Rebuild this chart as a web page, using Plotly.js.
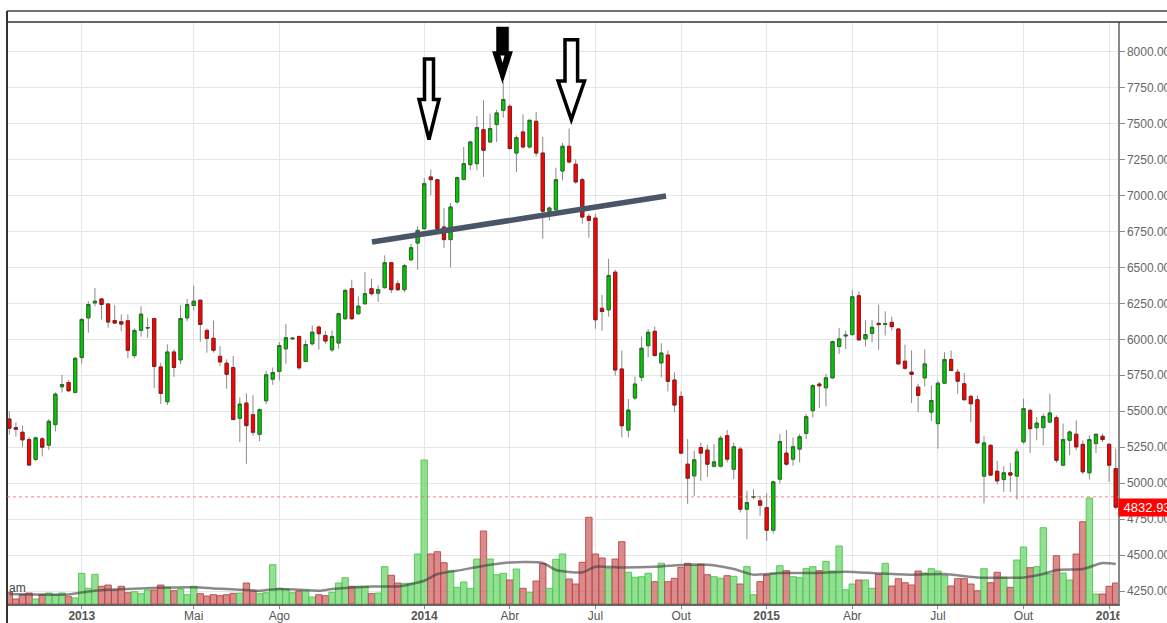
<!DOCTYPE html>
<html>
<head>
<meta charset="utf-8">
<script src="https://cdn.plot.ly/plotly-3.0.1.min.js"></script>
<style>html,body{margin:0;padding:0;background:#fff;}#chart{width:1167px;height:623px;}</style>
</head>
<body>
<div id="chart"></div>
<script>
// ---- data (weekly candles) ----
const firstWeek = '2012-10-15';
const open = [5446,5386,5354,5303,5165,5308,5264,5407,5670,5700,
5631,5873,6149,6253,6281,6246,6131,6122,6129,5887,
6062,6078,6145,5808,5566,5912,5857,6149,6235,6272,
6062,6007,5882,5834,5804,5451,5557,5476,5340,5573,
5723,5777,5934,6003,6020,5846,5969,6085,6027,5927,
5974,6143,6352,6178,6247,6352,6321,6359,6533,6386,
6345,6553,6669,6769,7129,7110,6781,6693,6955,7112,
7214,7221,7458,7372,7493,7592,7620,7295,7442,7337,
7516,7295,6890,6901,7170,7342,7217,7110,6855,6843,
6216,6205,6467,5794,5369,5592,5736,5956,6056,5836,
5891,5717,5603,5132,5051,5248,5230,5118,5118,5330,
5097,5237,4819,4903,4877,4830,4673,5028,5209,5167,
5237,5346,5504,5689,5663,5732,5950,6023,6033,6303,
6003,6042,6111,6104,6118,6072,5848,5772,5668,5732,
5494,5414,5695,5860,5772,5691,5603,5580,5049,5263,
5083,5025,5072,5049,5287,5506,5386,5386,5425,5455,
5125,5298,5340,5270,5072,5275,5326,5270,5102];
const high = [5499,5423,5400,5320,5324,5320,5446,5631,5753,5716,
5877,6149,6265,6357,6288,6253,6237,6173,6173,6076,
6230,6149,6149,5838,5965,5930,6237,6281,6373,6276,
6076,6131,5953,5861,5884,5596,5624,5612,5520,5781,
5804,5981,6108,6015,6025,5992,6097,6097,6057,6062,
6185,6352,6414,6298,6468,6421,6375,6584,6537,6410,
6526,6665,6785,7122,7180,7115,6913,6948,7133,7337,
7380,7551,7662,7569,7597,7789,7634,7418,7564,7527,
7581,7407,6924,7193,7365,7465,7251,7124,6873,6873,
6309,6560,6484,5922,5585,5740,6019,6072,6089,5973,
5922,5771,5638,5306,5225,5283,5267,5272,5330,5369,
5283,5253,4947,4958,4912,4928,5016,5341,5369,5318,
5341,5480,5689,5702,5760,5991,6079,6061,6342,6333,
6134,6134,6241,6195,6158,6077,5963,5922,5691,5929,
5679,5714,5910,5922,5795,5765,5617,5610,5326,5270,
5155,5118,5141,5240,5587,5518,5460,5483,5622,5471,
5414,5367,5437,5298,5333,5344,5344,5280,5240];
const low = [5338,5324,5250,5119,5153,5186,5232,5359,5631,5635,
5625,5831,6046,6230,6138,6080,6108,6057,5868,5868,
6018,6011,5661,5550,5543,5739,5827,6126,6200,5983,
5907,5907,5815,5656,5440,5285,5135,5331,5292,5550,
5684,5714,5830,5998,5788,5842,5957,5927,5969,5911,
5934,6136,6136,6173,6243,6305,6259,6352,6321,6336,
6328,6544,6484,6764,7001,6764,6635,6502,6943,7105,
7175,7175,7129,7365,7372,7541,7320,7163,7326,7326,
7272,6700,6827,6897,7105,7221,7082,6804,6706,6073,
6061,6158,5747,5318,5318,5578,5708,5875,5880,5736,
5638,5492,5202,4854,4912,5016,5044,5109,5109,5144,
5028,4796,4610,4888,4773,4598,4650,4998,5121,5121,
5144,5306,5457,5522,5534,5725,5899,5933,6026,5991,
5950,5980,5927,6026,6061,5825,5788,5557,5494,5672,
5432,5240,5691,5779,5622,5575,5425,5275,4859,5049,
4991,4940,4940,4887,5275,5210,5298,5263,5418,5141,
5118,5194,5229,5062,5025,5210,5286,5009,4817];
const close = [5382,5375,5301,5126,5315,5250,5430,5619,5686,5642,
5868,6138,6242,6265,6242,6120,6113,6106,5924,6062,
6175,6082,5811,5624,5912,5804,6145,6242,6265,6103,
6007,5924,5843,5757,5442,5550,5400,5354,5511,5753,
5769,5957,6011,6008,5802,5964,6050,6039,5988,6020,
6178,6340,6143,6231,6317,6317,6345,6533,6345,6345,
6512,6637,6757,7082,7110,6769,6693,6920,7124,7221,
7372,7472,7314,7465,7574,7667,7326,7402,7337,7523,
7295,6890,6913,7110,7342,7233,7094,6850,6827,6136,
6193,6444,5787,5399,5508,5689,5938,6049,5887,5905,
5708,5543,5209,5035,5162,5209,5132,5148,5313,5167,
5253,4819,4865,4907,4847,4673,5009,5290,5132,5253,
5323,5462,5678,5677,5732,5984,6003,6029,6296,5996,
6033,6084,6102,6108,6088,5829,5799,5756,5610,5829,
5575,5695,5860,5783,5709,5580,5552,5280,5280,5056,
5016,5072,5056,5217,5518,5379,5418,5464,5488,5159,
5303,5356,5252,5079,5303,5340,5303,5125,4833];
const volume = [11.7,5,9.3,11,5,9.3,11,9.3,11,7.3,
6,30.7,15.7,29.7,17.7,19,14,17.7,11.3,12.3,
10.3,14,14,19,16.7,13.3,15,9.3,17.7,10.3,
8,9.3,8.3,9.3,10.7,11,21,13,10.3,11.3,
39.3,15.7,15,11.3,13,13,7,9.3,8.3,11.7,
21,26.3,17.7,17.7,17.7,10.3,11,37.3,28.7,21,
20.7,20.7,50,144,50,52.3,41.3,33.3,16.7,22,
15.7,45,73,45,29.3,30.7,24,35,15.7,11.7,
23,40.3,15.7,44.7,50,25,20,41.7,86.7,50,
46,35.7,45,62.3,31.7,26.7,27.3,30.7,22.3,40.7,
22.3,25.7,36.7,40.7,38.7,39.7,29.3,27.3,25.7,28.3,
27.7,20,37.3,9.3,22.3,29,30.7,38.3,33.3,27.3,
26.3,35.3,37.3,33.3,42.7,33,58,14.3,20,24,
24,15.7,29.7,40.7,18,25.3,21.3,19,33,31,
35.3,33,28.3,18,25.3,25.3,20,13.3,35.3,21.3,
31.7,26.7,16.7,44,57,36.3,37.3,76.3,30,48.3,
31,24,50,82.3,106,10,10,17.7,21];
// volume moving-average line, read at selected candles (1-based candle number)
const maCandle = [1,10,13,16,21,26,30,32,36,39,42,45,48,50,53,56,60,64,66,69,74,77,82,84,88,90,94,99,104,107,111,114,118,123,128,133,138,143,148,155,158,160,164,167,169];
const maValue = [10,9.6,12.6,14.3,15.6,16.6,16.6,15.6,14.3,13.3,15,14.3,13.3,15,16.6,17.6,17.6,23.3,30,33.3,39.3,41.6,41,34,31.6,37.3,36.6,37.3,39.3,39.3,35,29.3,31,31,32.3,30.6,29.3,30,26.6,26.6,30,34,35,41,40];
// x tick labels (at candle numbers)
const tickCandle = [12,29,42,64,77,90,103,116,129,142,155,168];
const tickLabels = ['<b>2013</b>','Mai','Ago','<b>2014</b>','Abr','Jul','Out','<b>2015</b>','Abr','Jul','Out','<b>2016</b>'];
// neckline
const necklineDates = ['2013-11-04 10:00','2014-09-13'];
const necklineValues = [6676,6997];
const lastPrice = 4832.93;
const refLine = 4905;

// ---- build ----
const DAY = 864e5;
const t0 = Date.UTC(2012,9,15);
const dates = open.map((_,i)=> new Date(t0 + i*7*DAY).toISOString().slice(0,10));
const up = open.map((o,i)=> close[i] >= o);

const volFill = up.map(u => u ? 'rgba(110,215,110,0.75)' : 'rgba(205,100,100,0.75)');
const volLine = up.map(u => u ? 'rgba(80,195,80,0.9)' : 'rgba(190,70,70,0.9)');

const traces = [
  {type:'bar', x:dates, y:volume, xaxis:'x', yaxis:'y',
   width: 7*DAY*0.97,
   marker:{color:volFill, line:{color:volLine, width:1}}, hoverinfo:'skip'},
  {type:'scatter', mode:'lines', x:maCandle.map(n=>dates[n-1]), y:maValue, xaxis:'x', yaxis:'y',
   line:{color:'rgba(60,60,60,0.6)', width:2.5, shape:'spline', smoothing:0.6}, hoverinfo:'skip'},
  {type:'candlestick', x:dates, open:open, high:high, low:low, close:close, xaxis:'x', yaxis:'y2',
   increasing:{line:{color:'#8a8a8a', width:1}, fillcolor:'#00c800'},
   decreasing:{line:{color:'#8a8a8a', width:1}, fillcolor:'#ff0000'},
   whiskerwidth:0, hoverinfo:'skip'},
  {type:'candlestick', x:dates, open:open, close:close,
   high:open.map((o,i)=>Math.max(o,close[i])), low:open.map((o,i)=>Math.min(o,close[i])),
   xaxis:'x', yaxis:'y2',
   increasing:{line:{color:'#2a6a2a', width:1}, fillcolor:'#00cc00'},
   decreasing:{line:{color:'#8a1c1c', width:1}, fillcolor:'#ff0000'},
   whiskerwidth:0, hoverinfo:'skip'},
  {type:'scatter', mode:'lines', x:necklineDates, y:necklineValues, xaxis:'x', yaxis:'y2',
   line:{color:'#4a5568', width:5.5}, hoverinfo:'skip'}
];

// pixel -> paper helpers for decorations
const L=7, R=1118, T=22, B=604;
const px = x => (x-L)/(R-L);
const py = y => (B-y)/(B-T);
function pathOf(pts){ return 'M' + pts.map(p=>px(p[0]).toFixed(5)+','+py(p[1]).toFixed(5)).join(' L') + ' Z'; }

function hollowArrow(cx, top, neck, tip, shaftHalf, headHalf){
  return pathOf([[cx-shaftHalf,top],[cx+shaftHalf,top],[cx+shaftHalf,neck],[cx+headHalf,neck],[cx,tip],[cx-headHalf,neck],[cx-shaftHalf,neck]]);
}

const shapes = [
  {type:'line', xref:'paper', yref:'paper', x0:0, x1:px(1167), y0:py(11), y1:py(11), line:{color:'#444', width:1.5}},
  {type:'line', xref:'paper', yref:'paper', x0:0, x1:px(1167), y0:1, y1:1, line:{color:'#333', width:1.5}},
  {type:'line', xref:'paper', yref:'paper', x0:0, x1:0, y0:py(623), y1:py(11), line:{color:'#333', width:2}},
  {type:'line', xref:'paper', yref:'y2', x0:0, x1:1, y0:refLine, y1:refLine, line:{color:'rgba(255,90,90,0.75)', width:1, dash:'dot'}},
  {type:'rect', xref:'paper', yref:'paper', x0:px(1119.5), x1:px(1170), y0:py(623), y1:py(605.5), fillcolor:'#fff', line:{width:0}, layer:'above'},
  // arrows
  {type:'path', xref:'paper', yref:'paper', path:hollowArrow(429, 59, 99.5, 139.5, 4.5, 10), fillcolor:'#fff', line:{color:'#000', width:3.5}, layer:'above'},
  {type:'path', xref:'paper', yref:'paper', path:hollowArrow(502.5, 28.5, 53, 78, 4.5, 8), fillcolor:'#000', line:{color:'#000', width:3.5}, layer:'above'},
  {type:'path', xref:'paper', yref:'paper', path:pathOf([[500.5,55.5],[504.5,55.5],[502.5,63]]), fillcolor:'#fff', line:{width:0}, layer:'above'},
  {type:'path', xref:'paper', yref:'paper', path:hollowArrow(571.3, 39.8, 81, 119.5, 6.3, 13.2), fillcolor:'#fff', line:{color:'#000', width:3.5}, layer:'above'}
];

const annotations = [
  {xref:'paper', yref:'y2', x:1, y:lastPrice, xanchor:'left', yanchor:'middle', showarrow:false,
   text:'&nbsp;'+lastPrice.toFixed(2)+'&nbsp;&nbsp;', bgcolor:'#ff0000', borderpad:1,
   font:{color:'#fff', size:13, family:'Liberation Sans, Arial, sans-serif'}},
  {xref:'paper', yref:'paper', x:0, y:py(588), xanchor:'left', yanchor:'middle', showarrow:false,
   text:'am', font:{color:'#444', size:12, family:'Liberation Sans, Arial, sans-serif'}}
];

const layout = {
  width:1167, height:623,
  margin:{l:L, r:1167-R, t:T, b:623-B, pad:0},
  paper_bgcolor:'#fff', plot_bgcolor:'#fff',
  showlegend:false, hovermode:false,
  font:{family:'Liberation Sans, Arial, sans-serif', size:12, color:'#555'},
  xaxis:{type:'date', range:['2012-10-12 13:00','2016-01-06 10:00'],
    rangeslider:{visible:false},
    tickmode:'array', tickvals:tickCandle.map(n=>dates[n-1]), ticktext:tickLabels,
    showgrid:true, gridcolor:'#e6e6e6', gridwidth:1,
    ticks:'outside', ticklen:3, tickcolor:'#888', ticklabelstandoff:-3,
    showline:true, linecolor:'#666', linewidth:1.5,
    tickfont:{size:12, color:'#555'}, zeroline:false, fixedrange:true},
  yaxis:{range:[0, B-T], visible:false, fixedrange:true, showgrid:false, zeroline:false},
  yaxis2:{overlaying:'y', side:'right', range:[4160, 8206],
    tick0:0, dtick:250, tickformat:'.2f',
    showgrid:true, gridcolor:'#e6e6e6', gridwidth:1,
    ticks:'outside', ticklen:5, tickcolor:'#888',
    showline:true, linecolor:'#888', linewidth:1.5,
    tickfont:{size:12, color:'#666'}, zeroline:false, fixedrange:true},
  shapes:shapes,
  annotations:annotations
};

Plotly.newPlot('chart', traces, layout, {staticPlot:true, displayModeBar:false});
</script>
</body>
</html>
